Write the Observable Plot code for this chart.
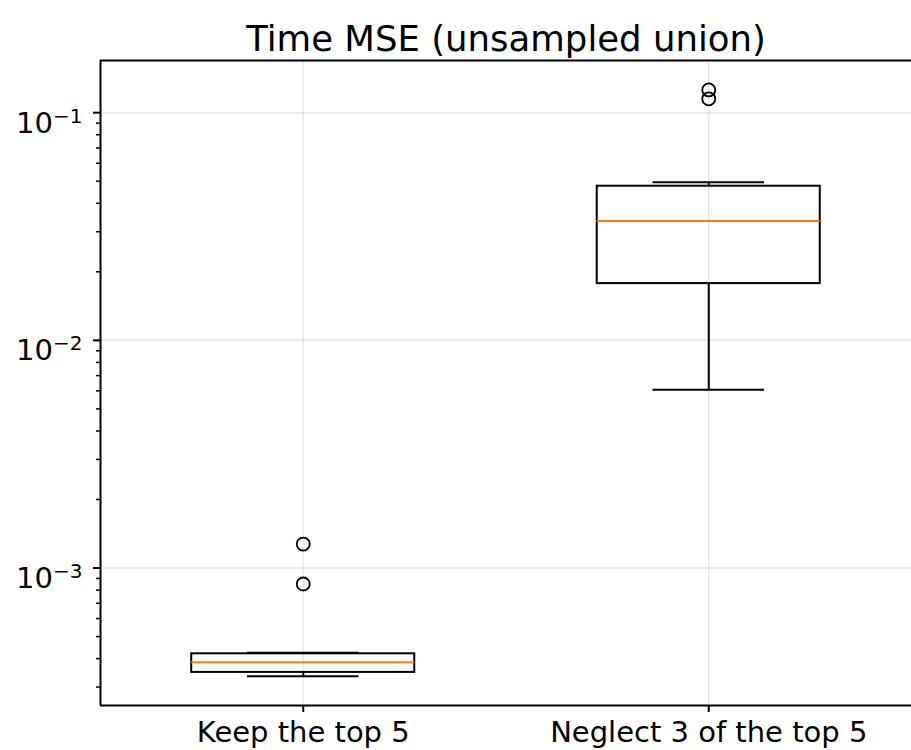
<!DOCTYPE html>
<html><head><meta charset="utf-8">
<script src="https://cdn.jsdelivr.net/npm/d3@7"></script>
<script src="https://cdn.jsdelivr.net/npm/@observablehq/plot@0.6"></script>
<style>html,body{margin:0;padding:0;background:#fff;overflow:hidden} svg{display:block}</style>
</head><body><div id="chart"></div>
<script>
// ---- data ----
const title = "Time MSE (unsampled union)";
const categories = ["Keep the top 5", "Neglect 3 of the top 5"];
const positions = [1, 2];
const whiskerLow  = [3.35e-4, 6.07e-3];
const q1          = [3.48e-4, 1.775e-2];
const median      = [3.855e-4, 3.344e-2];
const q3          = [4.20e-4, 4.753e-2];
const whiskerHigh = [4.24e-4, 4.949e-2];
const outlierGroup = [0, 0, 1, 1];
const outlierValue = [1.274e-3, 8.51e-4, 0.1259, 0.115];
const yMajorTicks = [1e-3, 1e-2, 1e-1];

// ---- derived tables ----
const yDomain = [2.49e-4, 0.1695];
const xDomain = [0.5, 2.5];
const boxHalf = 0.275, capHalf = 0.1375;
const boxes = categories.map((c, i) => ({c, pos: positions[i], lo: whiskerLow[i], q1: q1[i], med: median[i], q3: q3[i], hi: whiskerHigh[i]}));
const fliers = outlierValue.map((v, i) => ({pos: positions[outlierGroup[i]], v}));
const yMinorTicks = [];
for (const base of [1e-4, 1e-3, 1e-2, 1e-1]) for (let k = 2; k <= 9; k++) {
  const t = k * base; if (t >= yDomain[0] && t <= yDomain[1]) yMinorTicks.push(t);
}

const black = "#000";
const chart = Plot.plot({
  width: 911, height: 750,
  marginTop: 60, marginBottom: 45, marginLeft: 100, marginRight: 0,
  style: {fontFamily: "'DejaVu Sans', sans-serif", fontSize: "29px", color: "black", background: "white"},
  x: {type: "linear", domain: xDomain, axis: null},
  y: {type: "log", domain: yDomain, axis: null},
  marks: [
    Plot.gridY(yMajorTicks, {stroke: "#b0b0b0", strokeOpacity: 0.3, strokeWidth: 1.5}),
    Plot.gridX(positions, {stroke: "#b0b0b0", strokeOpacity: 0.3, strokeWidth: 1.5}),
    Plot.ruleX(boxes, {x: "pos", y1: "lo", y2: "q1", stroke: black, strokeWidth: 2}),
    Plot.ruleX(boxes, {x: "pos", y1: "q3", y2: "hi", stroke: black, strokeWidth: 2}),
    Plot.ruleY(boxes, {y: "lo", x1: d => d.pos - capHalf, x2: d => d.pos + capHalf, stroke: black, strokeWidth: 2}),
    Plot.ruleY(boxes, {y: "hi", x1: d => d.pos - capHalf, x2: d => d.pos + capHalf, stroke: black, strokeWidth: 2}),
    Plot.rect(boxes, {x1: d => d.pos - boxHalf, x2: d => d.pos + boxHalf, y1: "q1", y2: "q3", fill: "none", stroke: black, strokeWidth: 2}),
    Plot.ruleY(boxes, {y: "med", x1: d => d.pos - boxHalf, x2: d => d.pos + boxHalf, stroke: "#ff7f0e", strokeWidth: 2}),
    Plot.dot(fliers, {x: "pos", y: "v", r: 6.5, stroke: black, fill: "none", strokeWidth: 1.8}),
    // spines (left, bottom, top)
    Plot.ruleX([xDomain[0]], {stroke: black, strokeWidth: 2}),
    Plot.ruleY([yDomain[0]], {stroke: black, strokeWidth: 2}),
    Plot.ruleY([yDomain[1]], {stroke: black, strokeWidth: 2}),
    // axes
    Plot.axisY(yMinorTicks, {tickSize: 4, tickFormat: () => "", strokeWidth: 1.5, label: null}),
    Plot.axisY(yMajorTicks, {tickSize: 7, tickPadding: 11, strokeWidth: 2, fontSize: 29, label: null,
      tickFormat: d => String(Math.round(Math.log10(d))).replace("-", "\u2212")}),
    Plot.axisX(positions, {tickSize: 7, tickPadding: 9, strokeWidth: 2, fontSize: 29, label: null,
      tickFormat: d => categories[d - 1]}),
    Plot.text([title], {frameAnchor: "top", dy: -10, lineAnchor: "bottom", fontSize: 35.5, fill: black})
  ]
});

// mathtext-style labels 10^k
chart.querySelectorAll('[aria-label="y-axis tick label"] text').forEach(t => {
  const exp = t.textContent;
  if (!exp) return;
  t.textContent = "10";
  const sup = document.createElementNS("http://www.w3.org/2000/svg", "tspan");
  sup.setAttribute("dy", "-10");
  sup.setAttribute("font-size", "20");
  sup.textContent = exp;
  t.appendChild(sup);
  t.setAttribute("dy", "0.37em");
});
document.getElementById("chart").appendChild(chart);
</script>
</body></html>
